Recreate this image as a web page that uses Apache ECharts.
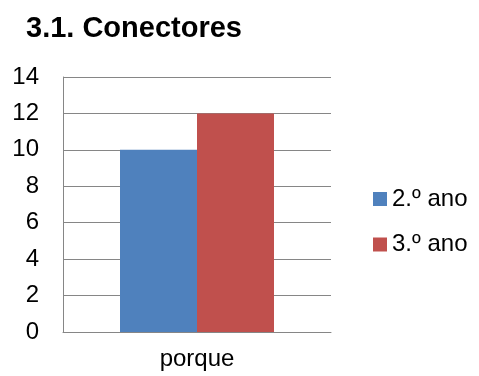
<!DOCTYPE html>
<html>
<head>
<meta charset="utf-8">
<script src="https://cdn.jsdelivr.net/npm/echarts@6/dist/echarts.min.js"></script>
<style>html,body{margin:0;padding:0;background:#fff}#c{width:479px;height:376px}</style>
</head>
<body>
<div id="c"></div>
<script>
const categories = ['porque'];
const seriesNames = ['2.º ano', '3.º ano'];
const values2ano = [10];
const values3ano = [12];
const yTicks = [0, 2, 4, 6, 8, 10, 12, 14];

const chart = echarts.init(document.getElementById('c'), null, {renderer: 'canvas'});
const font = 'Liberation Sans, Arial, sans-serif';
chart.setOption({
  animation: false,
  backgroundColor: '#ffffff',
  title: {
    text: '3.1. Conectores',
    left: 26, top: 14, padding: 0,
    textStyle: {fontFamily: font, fontSize: 29, fontWeight: 'bold', color: '#000'}
  },
  legend: {
    orient: 'vertical',
    left: 373, top: 187, padding: 0,
    itemWidth: 14, itemHeight: 14, itemGap: 21.5,
    icon: 'rect',
    textStyle: {fontFamily: font, fontSize: 24, lineHeight: 24, color: '#000'},
    data: seriesNames
  },
  grid: {left: 63, right: 148, top: 77, bottom: 44, containLabel: false},
  xAxis: {
    type: 'category',
    data: categories,
    axisLine: {lineStyle: {color: '#868686', width: 1}},
    axisTick: {show: false},
    axisLabel: {fontFamily: font, fontSize: 24, color: '#000', margin: 15}
  },
  yAxis: {
    type: 'value',
    min: yTicks[0], max: yTicks[yTicks.length - 1], interval: 2,
    axisLine: {show: true, lineStyle: {color: '#868686', width: 1}},
    axisTick: {show: false},
    splitLine: {show: true, lineStyle: {color: '#868686', width: 1}},
    axisLabel: {fontFamily: font, fontSize: 24, color: '#000', margin: 24}
  },
  series: [
    {name: seriesNames[0], type: 'bar', data: values2ano, barWidth: 77, barGap: '0%', itemStyle: {color: '#4F81BD'}},
    {name: seriesNames[1], type: 'bar', data: values3ano, barWidth: 77, barGap: '0%', itemStyle: {color: '#C0504D'}}
  ]
});
</script>
</body>
</html>
